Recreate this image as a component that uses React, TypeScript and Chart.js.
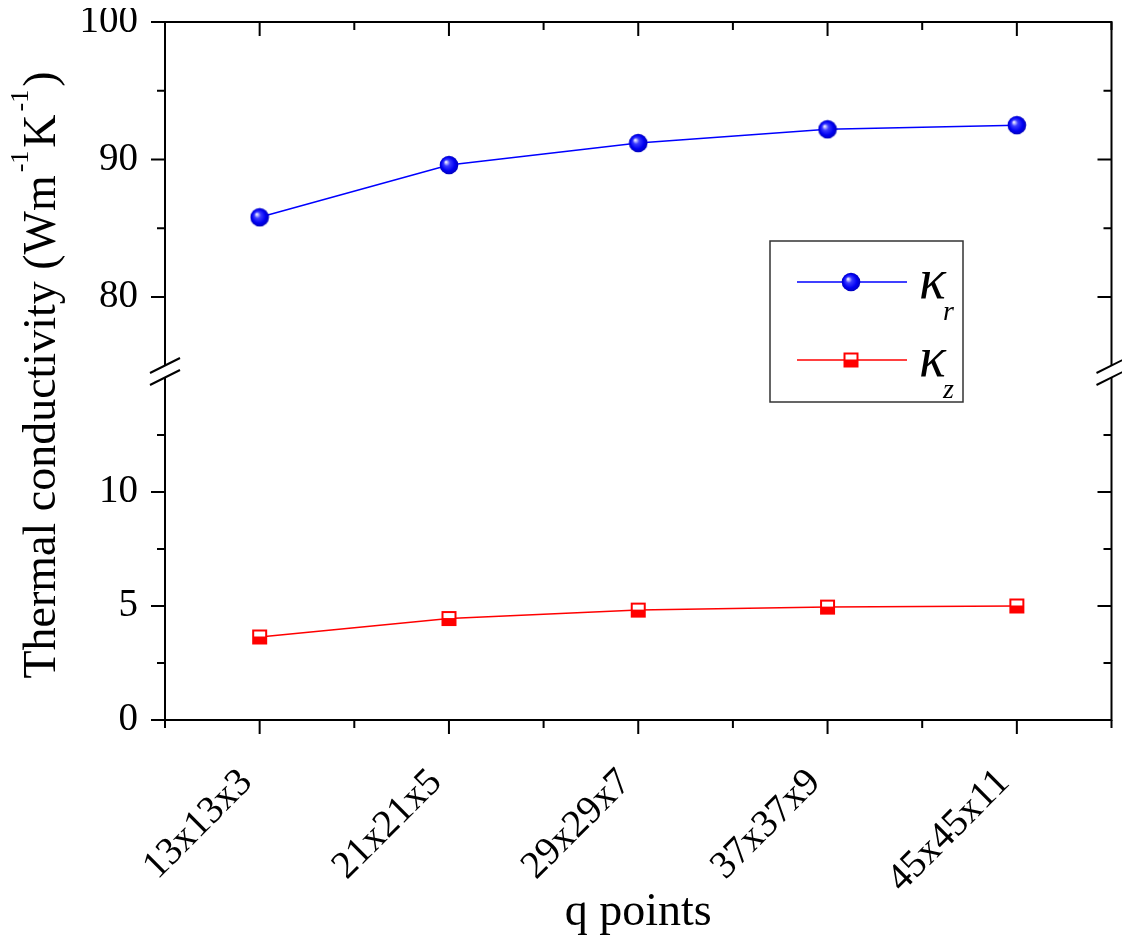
import { useEffect, useRef } from "react";
import { Chart, registerables } from "chart.js";
Chart.register(...registerables);

const categories = ["13x13x3", "21x21x5", "29x29x7", "37x37x9", "45x45x11"];
const kappaR = [85.8, 89.6, 91.2, 92.2, 92.5];
const kappaZ = [3.64, 4.45, 4.82, 4.95, 5.0];
const highTicks = [80, 90, 100];
const highMinor = [85, 95];
const lowTicks = [0, 5, 10];
const lowMinor = [2.5, 7.5, 12.5];
const highRange = [74.55, 100];
const lowRange = [0, 15.26];

const FAMILY = "'Liberation Serif', 'Times New Roman', serif";

function makeSphere() {
  const c = document.createElement("canvas");
  c.width = 20;
  c.height = 20;
  const g = c.getContext("2d")!;
  const grad = g.createRadialGradient(7, 7, 0.5, 10, 10, 9.5);
  grad.addColorStop(0, "#eaeaff");
  grad.addColorStop(0.3, "#3a3aff");
  grad.addColorStop(0.7, "#0000f2");
  grad.addColorStop(1, "#0000b8");
  g.fillStyle = grad;
  g.beginPath();
  g.arc(10, 10, 9.3, 0, Math.PI * 2);
  g.fill();
  return c;
}

function makeSquare() {
  const c = document.createElement("canvas");
  c.width = 17;
  c.height = 17;
  const g = c.getContext("2d")!;
  g.fillStyle = "#ff0000";
  g.fillRect(1, 1, 15, 15);
  g.fillStyle = "#ffffff";
  g.fillRect(3, 3, 11, 5);
  return c;
}

export default function App() {
  const ref = useRef<HTMLCanvasElement | null>(null);

  useEffect(() => {
    if (!ref.current) return;
    const sphere = makeSphere();
    const square = makeSquare();

    const framePlugin = {
      id: "frame",
      afterDraw(chart: any) {
        const ctx = chart.ctx as CanvasRenderingContext2D;
        const { left: L, right: R, top: T, bottom: B } = chart.chartArea;
        const xs = chart.scales.x;
        const yH = chart.scales.yHigh;
        const yL = chart.scales.yLow;
        ctx.save();
        ctx.strokeStyle = "#000";
        ctx.lineWidth = 2;
        ctx.lineCap = "butt";
        ctx.beginPath();
        ctx.moveTo(L - 1, T);
        ctx.lineTo(R + 1, T);
        ctx.moveTo(L - 1, B);
        ctx.lineTo(R + 1, B);
        ctx.moveTo(L, T);
        ctx.lineTo(L, B);
        ctx.moveTo(R, T);
        ctx.lineTo(R, B);
        ctx.stroke();

        const MAJ = 14;
        const MIN = 8;
        ctx.beginPath();
        const yTick = (py: number, len: number) => {
          ctx.moveTo(L - len, py);
          ctx.lineTo(L, py);
          ctx.moveTo(R - len, py);
          ctx.lineTo(R, py);
        };
        highTicks.forEach((v) => yTick(yH.getPixelForValue(v), MAJ));
        highMinor.forEach((v) => yTick(yH.getPixelForValue(v), MIN));
        lowTicks.forEach((v) => yTick(yL.getPixelForValue(v), MAJ));
        lowMinor.forEach((v) => yTick(yL.getPixelForValue(v), MIN));
        const xTick = (px: number, len: number) => {
          ctx.moveTo(px, B);
          ctx.lineTo(px, B + len);
          ctx.moveTo(px, T);
          ctx.lineTo(px, T + len);
        };
        categories.forEach((_, i) => xTick(xs.getPixelForValue(i), MAJ));
        for (let i = -0.5; i <= categories.length - 0.5; i += 1) {
          xTick(xs.getPixelForValue(i), MIN);
        }
        ctx.stroke();

        // axis breaks
        const yb = yH.top < yL.top ? yH.bottom : yL.bottom;
        [L, R].forEach((X: number) => {
          ctx.fillStyle = "#fff";
          ctx.fillRect(X - 2, yb - 6.5, 4, 12);
          ctx.beginPath();
          [yb - 6.5, yb + 5.5].forEach((c) => {
            ctx.moveTo(X - 15, c + 7.5);
            ctx.lineTo(X + 15, c - 7.5);
          });
          ctx.lineWidth = 2;
          ctx.stroke();
        });

        // y title with superscripts
        const parts = [
          { t: "Thermal conductivity (Wm", sup: false },
          { t: "-1", sup: true },
          { t: "K", sup: false },
          { t: "-1", sup: true },
          { t: ")", sup: false },
        ];
        const mainFont = `46px ${FAMILY}`;
        const supFont = `26px ${FAMILY}`;
        let total = 0;
        const widths = parts.map((p) => {
          ctx.font = p.sup ? supFont : mainFont;
          const w = ctx.measureText(p.t).width + (p.sup ? 6 : 0);
          total += w;
          return w;
        });
        ctx.save();
        ctx.translate(47, 367);
        ctx.rotate(-Math.PI / 2);
        ctx.fillStyle = "#000";
        ctx.textBaseline = "alphabetic";
        ctx.textAlign = "left";
        let cx = -total / 2;
        parts.forEach((p, i) => {
          ctx.font = p.sup ? supFont : mainFont;
          ctx.fillText(p.t, cx + (p.sup ? 3 : 0), p.sup ? -27 : 0);
          cx += widths[i];
        });
        ctx.restore();

        // legend
        const bx = 762, by = 233, bw = 193, bh = 161;
        ctx.lineWidth = 1.5;
        ctx.strokeStyle = "#333";
        ctx.strokeRect(bx, by, bw, bh);
        const rows = [
          { y: 274, color: "#0000ff", img: sphere, sub: "r", kb: 290, sb: 312 },
          { y: 352, color: "#ff0000", img: square, sub: "z", kb: 368, sb: 390 },
        ];
        rows.forEach((r) => {
          ctx.strokeStyle = r.color;
          ctx.lineWidth = 1.5;
          ctx.beginPath();
          ctx.moveTo(789, r.y);
          ctx.lineTo(899, r.y);
          ctx.stroke();
          ctx.drawImage(r.img, 843 - r.img.width / 2, r.y - r.img.height / 2);
          ctx.fillStyle = "#000";
          ctx.textAlign = "left";
          ctx.textBaseline = "alphabetic";
          ctx.font = `italic 56px ${FAMILY}`;
          ctx.fillText("κ", 911, r.kb);
          ctx.font = `italic 28px ${FAMILY}`;
          ctx.fillText(r.sub, 935, r.sb);
        });
        ctx.restore();
      },
    };

    const tickFont = { family: FAMILY, size: 39 };
    const chart = new Chart(ref.current, {
      type: "line",
      data: {
        labels: categories,
        datasets: [
          {
            label: "κr",
            data: kappaR,
            yAxisID: "yHigh",
            borderColor: "#0000ff",
            borderWidth: 1.5,
            pointStyle: sphere as any,
            pointRadius: 9,
            tension: 0,
          },
          {
            label: "κz",
            data: kappaZ,
            yAxisID: "yLow",
            borderColor: "#ff0000",
            borderWidth: 1.5,
            pointStyle: square as any,
            pointRadius: 8,
            tension: 0,
          },
        ],
      },
      options: {
        responsive: false,
        animation: false,
        devicePixelRatio: 1,
        layout: { padding: { top: 14, right: 7, left: 0, bottom: 0 } },
        plugins: { legend: { display: false }, tooltip: { enabled: false } },
        scales: {
          x: {
            type: "category",
            offset: true,
            grid: { display: false, drawTicks: false },
            border: { display: false },
            ticks: {
              font: { family: FAMILY, size: 39 },
              color: "#000",
              minRotation: 45,
              maxRotation: 45,
              autoSkip: false,
              padding: 40,
              labelOffset: -13,
            },
            title: {
              display: true,
              text: "q points",
              color: "#000",
              font: { family: FAMILY, size: 46, lineHeight: 1 },
              padding: { top: 0, bottom: 0 },
            },
            afterFit: (s: any) => {
              s.height = 216;
              s.paddingLeft = 0;
              s.paddingRight = 0;
            },
          },
          yLow: {
            type: "linear",
            position: "left",
            stack: "y",
            stackWeight: 348,
            min: lowRange[0],
            max: lowRange[1],
            grid: { display: false, drawTicks: false },
            border: { display: false },
            ticks: { font: tickFont, color: "#000", padding: 27 },
            afterBuildTicks: (s: any) => {
              s.ticks = lowTicks.map((v) => ({ value: v }));
            },
            afterFit: (s: any) => {
              s.width = 157;
              s.paddingTop = 0;
              s.paddingBottom = 0;
            },
          },
          yHigh: {
            type: "linear",
            position: "left",
            stack: "y",
            stackWeight: 350,
            min: highRange[0],
            max: highRange[1],
            grid: { display: false, drawTicks: false },
            border: { display: false },
            ticks: { font: tickFont, color: "#000", padding: 27 },
            afterBuildTicks: (s: any) => {
              s.ticks = highTicks.map((v) => ({ value: v }));
            },
            afterFit: (s: any) => {
              s.width = 157;
              s.paddingTop = 0;
              s.paddingBottom = 0;
            },
          },
        },
      } as any,
      plugins: [framePlugin],
    });
    return () => chart.destroy();
  }, []);

  return (
    <div style={{ width: 1114, height: 928 }}>
      <canvas ref={ref} width={1114} height={928} style={{ display: "block" }} />
    </div>
  );
}
